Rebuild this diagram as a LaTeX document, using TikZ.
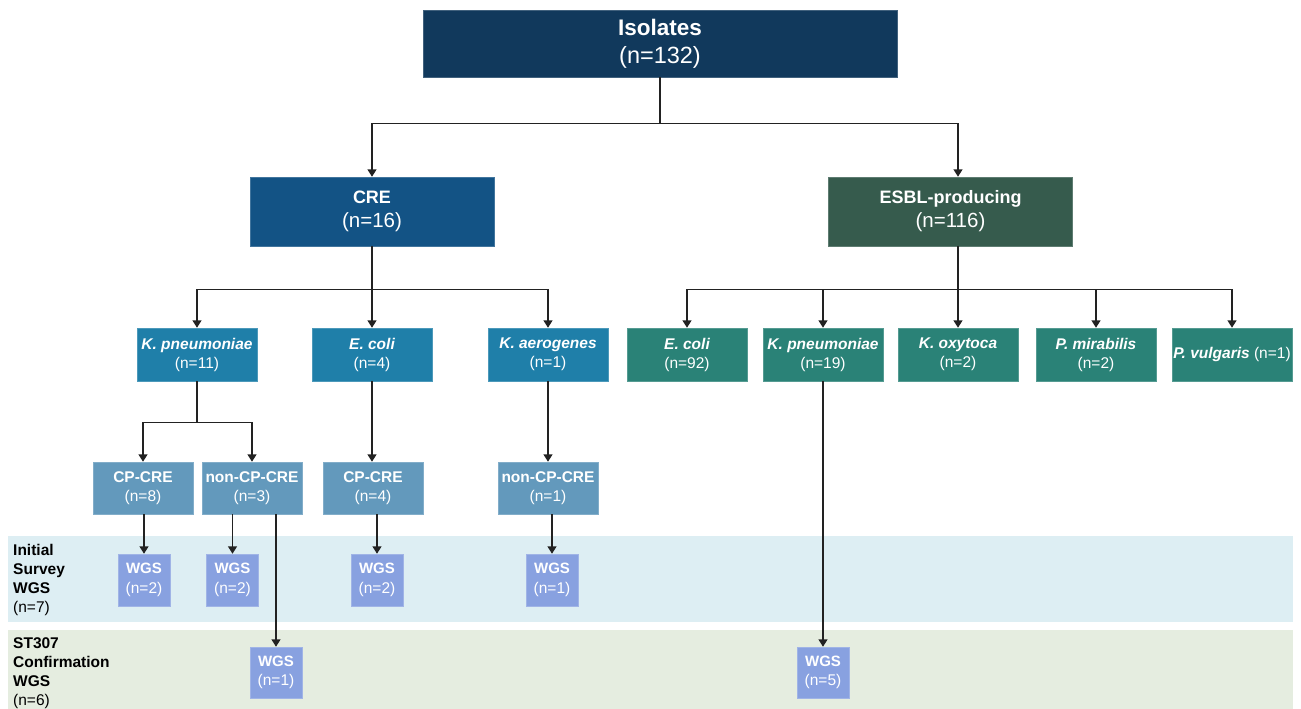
\documentclass[tikz,border=0pt]{standalone}
\usepackage{fontspec}
\setmainfont{Liberation Sans}
\usetikzlibrary{arrows.meta}
\definecolor{cIso}{HTML}{11395C}
\definecolor{cCre}{HTML}{135385}
\definecolor{cEsbl}{HTML}{365B4D}
\definecolor{cSpA}{HTML}{1F7FA9}
\definecolor{cSpB}{HTML}{2A8277}
\definecolor{cCp}{HTML}{6399BC}
\definecolor{cWgs}{HTML}{88A1E0}
\definecolor{cBandA}{HTML}{DDEEF3}
\definecolor{cBandB}{HTML}{E5EDE0}
\definecolor{lineC}{HTML}{222222}
\newcommand\setfs[2]{\fontsize{#1}{#2}\selectfont}
\begin{document}
\begin{tikzpicture}[x=1pt,y=-1pt,
  box/.style={rectangle, inner sep=0pt, align=center, text=white, fill=#1, draw=#1!80!white, line width=0.5pt},
  bigbox/.style={box=#1, minimum width=244pt, minimum height=69pt, font=\setfs{20.5}{24}},
  spbox/.style={box=#1, minimum width=120pt, minimum height=53pt, font=\setfs{15.5}{19}},
  cpbox/.style={box=cCp, minimum width=100pt, minimum height=52pt, font=\setfs{15.5}{19.5}},
  wgsbox/.style={box=cWgs, minimum width=52pt, minimum height=52pt, font=\setfs{15.5}{19.5}},
  conn/.style={draw=lineC, line width=1.5pt, -{Triangle[length=7.5pt,width=9pt]}},
  band/.style={fill=#1, draw=none},
  lab/.style={anchor=north west, inner sep=0pt, align=left, text=black, font=\setfs{15.5}{19}}
]
\useasboundingbox (0,0) rectangle (1301,709);

% bands
\path[band=cBandA] (8,536) rectangle (1293,622);
\path[band=cBandB] (8,630) rectangle (1293,709);

% labels
\node[lab] (labA) at (13,544.5) {{\bfseries Initial}\\{\bfseries Survey}\\{\bfseries WGS}\\(n=7)};
\node[lab] (labB) at (13,637) {{\bfseries ST307}\\{\bfseries Confirmation}\\{\bfseries WGS}\\(n=6)};

% top
\node[box=cIso, minimum width=474pt, minimum height=67pt, font=\setfs{23.5}{28}] (iso) at (660,43.5)
  {{\setfs{22.5}{28}\bfseries Isolates}\\(n=132)};
\node[bigbox=cCre] (cre) at (372,211.5)
  {{\setfs{18}{24}\bfseries CRE}\\(n=16)};
\node[bigbox=cEsbl] (esbl) at (950.5,211.5)
  {{\setfs{18}{24}\bfseries ESBL-producing}\\(n=116)};

% CRE species
\node[spbox=cSpA] (kp1) at (197,354.5) {{\bfseries\itshape K. pneumoniae}\\(n=11)};
\node[spbox=cSpA] (ec1) at (372,354.5) {{\bfseries\itshape E. coli}\\(n=4)};
\node[spbox=cSpA] (ka1) at (548,354.5) {{\bfseries\itshape K. aerogenes}\\(n=1)};

% ESBL species
\node[spbox=cSpB] (ec2) at (687,354.5) {{\bfseries\itshape E. coli}\\(n=92)};
\node[spbox=cSpB] (kp2) at (823,354.5) {{\bfseries\itshape K. pneumoniae}\\(n=19)};
\node[spbox=cSpB] (kox) at (958,354.5) {{\bfseries\itshape K. oxytoca}\\(n=2)};
\node[spbox=cSpB] (pmi) at (1096,354.5) {{\bfseries\itshape P. mirabilis}\\(n=2)};
\node[spbox=cSpB] (pvu) at (1232,354.5) {{\bfseries\itshape P. vulgaris} (n=1)};

% CP level
\node[cpbox] (cp1) at (143,488) {{\bfseries CP-CRE}\\(n=8)};
\node[cpbox] (ncp1) at (252,488) {{\bfseries non-CP-CRE}\\(n=3)};
\node[cpbox] (cp2) at (373,488) {{\bfseries CP-CRE}\\(n=4)};
\node[cpbox] (ncp2) at (548,488) {{\bfseries non-CP-CRE}\\(n=1)};

% WGS
\node[wgsbox] (w1) at (144,580) {{\setfs{15}{19.5}\bfseries WGS}\\(n=2)};
\node[wgsbox] (w2) at (232.5,580) {{\setfs{15}{19.5}\bfseries WGS}\\(n=2)};
\node[wgsbox] (w3) at (377,580) {{\setfs{15}{19.5}\bfseries WGS}\\(n=2)};
\node[wgsbox] (w4) at (552,580) {{\setfs{15}{19.5}\bfseries WGS}\\(n=1)};
\node[wgsbox, minimum height=51pt] (w5) at (276,672.5) {{\setfs{15}{19.5}\bfseries WGS}\\(n=1)};
\node[wgsbox, minimum height=51pt] (w6) at (823,672.5) {{\setfs{15}{19.5}\bfseries WGS}\\(n=5)};

% connectors
\draw[conn] (iso.south) -- ++(0,46) -| (cre.north);
\draw[conn] (iso.south) -- ++(0,46) -| (esbl.north -| kox.north);

\draw[conn] (cre.south) -- ++(0,43) -| (kp1.north);
\draw[conn] (cre.south) -- (ec1.north);
\draw[conn] (cre.south) -- ++(0,43) -| (ka1.north);

\draw[conn] (esbl.south -| kox.north) -- ++(0,43) -| (ec2.north);
\draw[conn] (esbl.south -| kox.north) -- ++(0,43) -| (kp2.north);
\draw[conn] (esbl.south -| kox.north) -- (kox.north);
\draw[conn] (esbl.south -| kox.north) -- ++(0,43) -| (pmi.north);
\draw[conn] (esbl.south -| kox.north) -- ++(0,43) -| (pvu.north);

\draw[conn] (kp1.south) -- ++(0,41) -| (cp1.north);
\draw[conn] (kp1.south) -- ++(0,41) -| (ncp1.north);
\draw[conn] (ec1.south) -- (ec1.south |- cp2.north);
\draw[conn] (ka1.south) -- (ncp2.north);

\draw[conn] (cp1.south -| w1.north) -- (w1.north);
\draw[conn] (ncp1.south -| w2.north) -- (w2.north);
\draw[conn] (ncp1.south -| w5.north) -- (w5.north);
\draw[conn] (cp2.south -| w3.north) -- (w3.north);
\draw[conn] (ncp2.south -| w4.north) -- (w4.north);
\draw[conn] (kp2.south) -- (w6.north);
\end{tikzpicture}
\end{document}
